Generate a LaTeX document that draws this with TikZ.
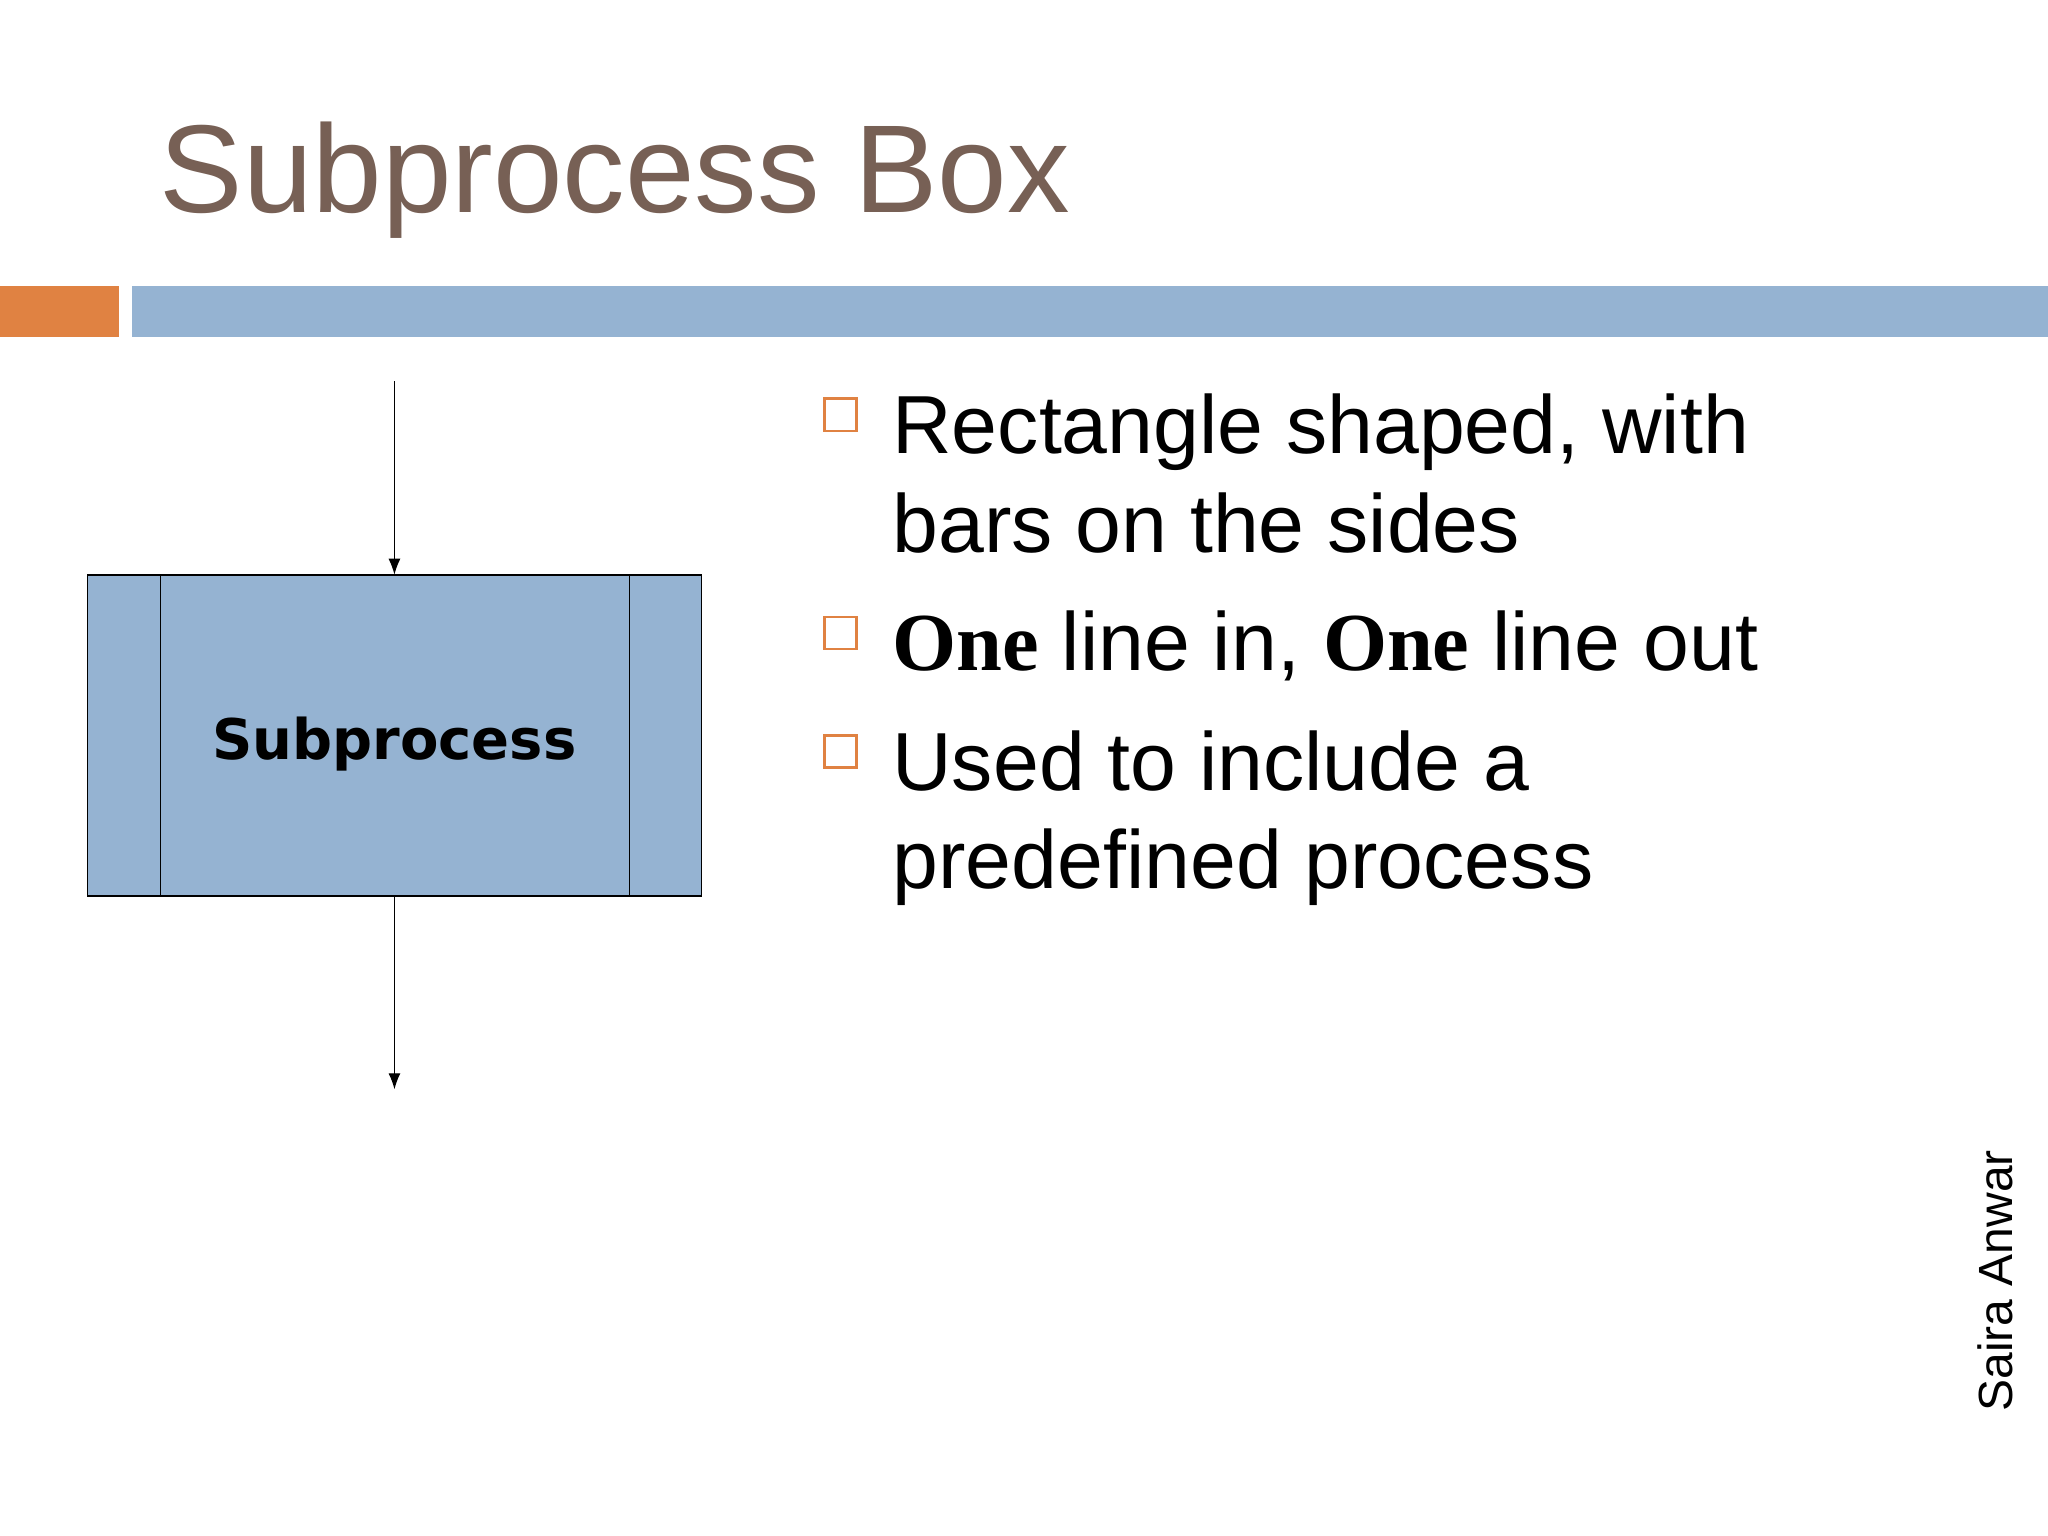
\documentclass[tikz,border=0pt]{standalone}
\usepackage{fontspec}
\setmainfont{Liberation Sans}
\newfontfamily\serifb{Liberation Serif}
\newfontfamily\boxfont{DejaVu Sans}
\usetikzlibrary{arrows.meta}
\definecolor{titlec}{RGB}{119,96,85}
\definecolor{barblue}{RGB}{149,179,210}
\definecolor{barorange}{RGB}{224,130,66}
\tikzset{
  bul/.style={draw=barorange,line width=1.2pt,fill=white,minimum size=16pt,inner sep=0pt},
  btxt/.style={anchor=base west,font=\fontsize{41.2}{50}\selectfont,inner sep=0pt},
  conn/.style={-{Latex[length=8pt,width=6pt]},line width=0.6pt}
}
\begin{document}
\begin{tikzpicture}[x=0.653pt,y=-0.653pt]
\useasboundingbox (0,0) rectangle (1568,1176);
\fill[white] (0,0) rectangle (1568,1176);
\node[anchor=base west,inner sep=0pt,text=titlec,font=\fontsize{62.5}{75}\selectfont] (title) at (122,163) {Subprocess Box};
\fill[barorange] (0,219) rectangle (91,258);
\fill[barblue] (101,219) rectangle (1568,258);
\draw[fill=barblue,line width=0.8pt] (67,440) rectangle (537,686);
\draw[line width=0.8pt] (123,440) -- (123,686) (482,440) -- (482,686);
\node[font=\boxfont\bfseries\fontsize{28}{34}\selectfont] (sp) at (302,570) {Subprocess};
\coordinate (bt) at (302,440);
\coordinate (bb) at (302,686);
\coordinate (in) at (302,292);
\coordinate (out) at (302,834);
\draw[conn] (in) -- (bt);
\draw[conn] (bb) -- (out);
\node[bul] (b1) at (643.5,317.5) {};
\node[bul] (b2) at (643.5,484.5) {};
\node[bul] (b3) at (643.5,575.5) {};
\node[btxt] (t1) at (683,347) {Rectangle shaped, with};
\node[btxt] (t1b) at (683,423) {bars on the sides};
\node[btxt] (t2) at (683,513) {{\serifb\bfseries One} line in, {\serifb\bfseries One} line out};
\node[btxt] (t3) at (683,605) {Used to include a};
\node[btxt] (t3b) at (683,680) {predefined process};
\node[rotate=90,anchor=base west,inner sep=0pt,font=\fontsize{24}{28}\selectfont] (auth) at (1541,1081) {Saira Anwar};
\end{tikzpicture}
\end{document}
